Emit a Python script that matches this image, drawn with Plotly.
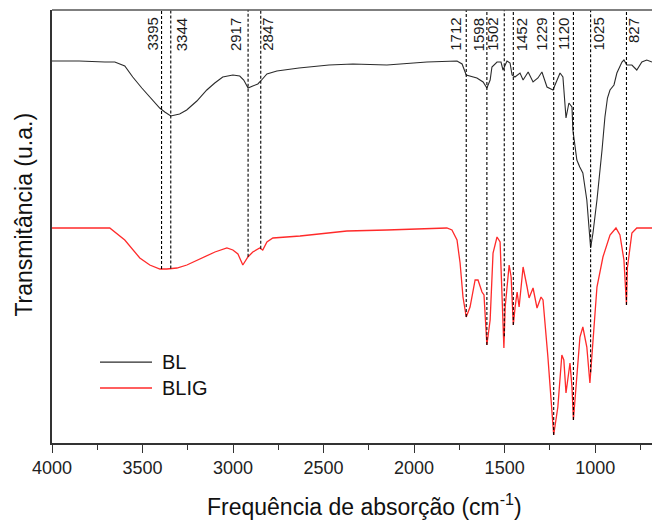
import numpy as np
import plotly.graph_objects as go

# ---------------- data ----------------
bl_wn = [4000, 3850, 3708, 3653, 3598, 3554, 3504, 3460, 3405, 3377, 3344, 3295, 3256, 3200,
         3145, 3101, 3057, 3001, 2963, 2941, 2917, 2891, 2863, 2847, 2813, 2758, 2636, 2470,
         2338, 2150, 1929, 1763, 1735, 1712, 1653, 1619, 1598, 1580, 1570, 1542, 1520, 1509,
         1487, 1470, 1459, 1443, 1415, 1398, 1370, 1343, 1316, 1294, 1266, 1233, 1211, 1194,
         1178, 1161, 1145, 1128, 1123, 1112, 1101, 1085, 1068, 1046, 1029, 1025, 1012, 990,
         962, 946, 932, 918, 896, 880, 852, 841, 825, 797, 770, 742, 715, 686]
bl_t = [382, 382, 381, 381, 377, 366, 355, 346, 335, 331, 327, 329, 333, 342,
        353, 360, 366, 368, 367, 363, 355, 357, 359, 362, 369, 372, 375, 378,
        379, 378, 381, 382, 379, 368, 365, 361, 355, 363, 376, 381, 381, 373,
        382, 380, 368, 366, 370, 363, 371, 361, 365, 371, 356, 353, 363, 370,
        366, 325, 340, 336, 313, 300, 283, 276, 270, 243, 210, 195, 210, 243,
        293, 326, 345, 353, 358, 370, 381, 383, 378, 378, 373, 381, 383, 381]

blig_wn = [4000, 3850, 3736, 3681, 3598, 3515, 3460, 3404, 3366, 3310, 3255, 3183, 3100, 3034,
           3001, 2973, 2946, 2918, 2891, 2853, 2836, 2813, 2780, 2630, 2465, 2371, 2150, 1968,
           1819, 1791, 1763, 1746, 1730, 1712, 1691, 1663, 1647, 1625, 1614, 1598, 1580, 1564,
           1542, 1525, 1504, 1497, 1475, 1464, 1452, 1442, 1431, 1420, 1398, 1376, 1365, 1343,
           1321, 1299, 1288, 1261, 1239, 1229, 1206, 1184, 1173, 1161, 1139, 1128, 1120, 1101,
           1084, 1068, 1046, 1029, 1012, 990, 957, 918, 885, 863, 841, 832, 827, 822, 797, 770, 686]
blig_t = [215, 215, 215, 215, 203, 185, 178, 174, 174, 175, 178, 184, 191, 195,
          193, 189, 178, 186, 191, 195, 193, 201, 205, 207, 210, 212, 213, 214,
          215, 213, 203, 180, 146, 126, 136, 163, 163, 151, 148, 98, 123, 190,
          206, 201, 95, 136, 178, 166, 118, 136, 151, 136, 176, 156, 145, 155,
          135, 146, 143, 86, 30, 8, 36, 88, 83, 50, 80, 56, 23, 70,
          106, 116, 96, 60, 106, 156, 186, 208, 215, 208, 183, 150, 138, 175, 210, 215, 215]

peaks = [3395, 3344, 2917, 2847, 1712, 1598, 1502, 1452, 1229, 1120, 1025, 827]
peak_labels = [str(p) for p in peaks]
tick_vals = [4000, 3500, 3000, 2500, 2000, 1500, 1000]
tick_text = [str(v) for v in tick_vals]

series_names = ["BL", "BLIG"]
series_colors = ["#2b2b2b", "#ff2a2a"]

# label horizontal offsets (px) relative to each dashed line (style only)
label_shift = [-9.5, 11, -12.5, 6.5, -11, -8, -12, 8.5, -12.5, -10.5, 7.5, 7]

Y_TOP = 433
FONT = "Liberation Sans, Arial, sans-serif"

fig = go.Figure()
fig.add_trace(go.Scatter(x=bl_wn, y=bl_t, mode="lines", name=series_names[0],
                         line=dict(color=series_colors[0], width=1.1), showlegend=False))
fig.add_trace(go.Scatter(x=blig_wn, y=blig_t, mode="lines", name=series_names[1],
                         line=dict(color=series_colors[1], width=1.3), showlegend=False))

# dashed marker lines, from top of frame down to the BLIG curve
order = np.argsort(blig_wn)
xs_sorted = np.array(blig_wn)[order]
ys_sorted = np.array(blig_t)[order]
for p, lab, sh in zip(peaks, peak_labels, label_shift):
    yb = float(np.interp(p, xs_sorted, ys_sorted))
    fig.add_shape(type="line", xref="x", yref="y", x0=p, x1=p, y0=yb, y1=Y_TOP,
                  line=dict(color="black", width=1.1, dash="3px,2px"), layer="above")
    fig.add_annotation(x=p, xref="x", y=1, yref="paper", yanchor="top", yshift=-6,
                       xanchor="center", xshift=sh, text=lab, textangle=-90,
                       showarrow=False, font=dict(family=FONT, size=15, color="#1a1a1a"))

# top frame line
fig.add_shape(type="line", xref="paper", yref="paper", x0=0, x1=1, y0=1, y1=1,
              line=dict(color="#555555", width=1.5))

# custom legend
leg_y = [0.187, 0.127]
for name, col, ly in zip(series_names, series_colors, leg_y):
    fig.add_shape(type="line", xref="paper", yref="paper", x0=0.08, x1=0.1667, y0=ly, y1=ly,
                  line=dict(color=col, width=1.3))
    fig.add_annotation(x=0.18, y=ly, xref="paper", yref="paper", xanchor="left",
                       yanchor="middle", text=name, showarrow=False,
                       font=dict(family=FONT, size=20, color="#111111"))

# axis titles
fig.add_annotation(x=0.52, y=-0.143, xref="paper", yref="paper", xanchor="center",
                   yanchor="middle", showarrow=False,
                   text="Frequência de absorção (cm<sup>-1</sup>)",
                   font=dict(family=FONT, size=23, color="#111111"))
fig.add_annotation(x=-0.047, y=0.527, xref="paper", yref="paper", xanchor="center",
                   yanchor="middle", showarrow=False, textangle=-90,
                   text="Transmitância (u.a.)",
                   font=dict(family=FONT, size=23, color="#111111"))

fig.update_layout(
    width=652, height=524,
    margin=dict(l=52, r=0, t=10, b=81),
    plot_bgcolor="white", paper_bgcolor="white",
    font=dict(family=FONT),
)
fig.update_xaxes(range=[4000, 686], tickvals=tick_vals, ticktext=tick_text,
                 ticks="outside", ticklen=8, tickwidth=1.3, tickcolor="#333333",
                 showline=True, linecolor="#333333", linewidth=1.5,
                 showgrid=False, zeroline=False,
                 tickfont=dict(family=FONT, size=18, color="#222222"),
                 minor=dict(dtick=250, tick0=0, ticks="outside", ticklen=5,
                            tickwidth=1.3, tickcolor="#333333", showgrid=False))
fig.update_yaxes(range=[0, Y_TOP], showticklabels=False, ticks="",
                 showline=True, linecolor="#333333", linewidth=1.5,
                 showgrid=False, zeroline=False)

fig.write_html("out.html", config={"displayModeBar": False},
               post_script="document.body.style.margin='0';document.body.style.overflow='hidden';")
